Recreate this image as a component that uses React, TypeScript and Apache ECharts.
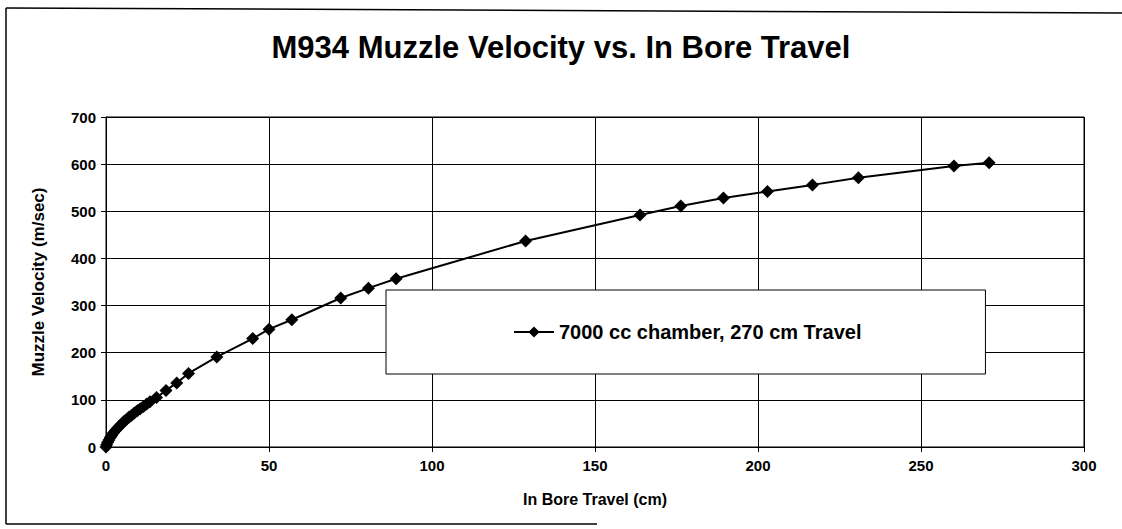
import React, { useEffect, useRef } from "react";
import * as echarts from "echarts";

const titleText = "M934 Muzzle Velocity vs. In Bore Travel";
const seriesName = "7000 cc chamber, 270 cm Travel";
const xAxisName = "In Bore Travel (cm)";
const yAxisName = "Muzzle Velocity (m/sec)";

// In bore travel (cm)
const travel = [
  0, 0.2, 0.5, 0.9, 1.3, 1.8, 2.3, 2.9, 3.5, 4.1, 4.8, 5.5, 6.2, 7.0, 7.8, 8.7,
  9.6, 10.5, 11.5, 12.5, 13.5, 15.5, 18.4, 21.7, 25.3, 34, 45, 50, 57, 72, 80.5,
  89, 128.7, 163.8, 176.3, 189.4, 202.9, 216.7, 230.8, 260.1, 270.9,
];
// Muzzle velocity (m/sec)
const velocity = [
  0, 5, 10, 15, 20, 25, 30, 35, 40, 44, 49, 54, 58, 63, 67, 72,
  77, 81, 86, 91, 96, 105, 120, 136, 156, 191, 230, 250, 270, 316, 337,
  357, 437, 492, 511, 528, 542, 556, 571, 596, 603,
];

export default function App() {
  const ref = useRef<HTMLDivElement>(null);
  useEffect(() => {
    if (!ref.current) return;
    const chart = echarts.init(ref.current, null, { renderer: "svg" });
    const data = travel.map((x, i) => [x, velocity[i]]);
    const font = "'Liberation Sans', Arial, sans-serif";
    chart.setOption({
      animation: false,
      backgroundColor: "#ffffff",
      textStyle: { fontFamily: font, color: "#000" },
      title: {
        text: titleText,
        left: "center",
        top: 27,
        textStyle: { fontSize: 31, fontWeight: "bold", color: "#000", fontFamily: font },
      },
      grid: { left: 106, right: 38, top: 117, bottom: 82, show: true, borderColor: "#000", borderWidth: 1 },
      legend: {
        left: 386,
        top: 290,
        padding: [32, 124, 32, 127],
        backgroundColor: "#fff",
        borderColor: "#000",
        borderWidth: 1,
        itemWidth: 40,
        itemHeight: 14,
        itemGap: 5,
        textStyle: { fontSize: 20, fontWeight: "bold", color: "#000", fontFamily: font },
        data: [seriesName],
      },
      xAxis: {
        type: "value",
        min: 0,
        max: 300,
        interval: 50,
        name: xAxisName,
        nameLocation: "middle",
        nameGap: 44,
        nameTextStyle: { fontSize: 16, fontWeight: "bold", color: "#000" },
        axisLine: { show: true, lineStyle: { color: "#000", width: 1 } },
        axisTick: { show: true, length: 5, lineStyle: { color: "#000" } },
        axisLabel: { fontSize: 15, fontWeight: "bold", color: "#000", margin: 11 },
        splitLine: { show: true, lineStyle: { color: "#000", width: 1 } },
      },
      yAxis: {
        type: "value",
        min: 0,
        max: 700,
        interval: 100,
        name: yAxisName,
        nameLocation: "middle",
        nameGap: 59,
        nameTextStyle: { fontSize: 17, fontWeight: "bold", color: "#000" },
        axisLine: { show: true, lineStyle: { color: "#000", width: 1 } },
        axisTick: { show: true, length: 5, lineStyle: { color: "#000" } },
        axisLabel: { fontSize: 15, fontWeight: "bold", color: "#000", margin: 10 },
        splitLine: { show: true, lineStyle: { color: "#000", width: 1 } },
      },
      series: [
        {
          name: seriesName,
          type: "line",
          data,
          symbol: "diamond",
          symbolSize: 13,
          lineStyle: { color: "#000", width: 2 },
          itemStyle: { color: "#000" },
          z: 3,
        },
      ],
      graphic: [
        { type: "line", shape: { x1: 6, y1: 8, x2: 1122, y2: 13 }, style: { stroke: "#000", lineWidth: 1.5 } },
        { type: "line", shape: { x1: 6, y1: 8, x2: 6, y2: 524 }, style: { stroke: "#000", lineWidth: 1.5 } },
        { type: "line", shape: { x1: 6, y1: 524, x2: 597, y2: 524 }, style: { stroke: "#000", lineWidth: 1.5 } },
      ],
    });
    return () => chart.dispose();
  }, []);
  return <div ref={ref} style={{ width: 1122, height: 529, position: "absolute", left: 0, top: 0 }} />;
}
